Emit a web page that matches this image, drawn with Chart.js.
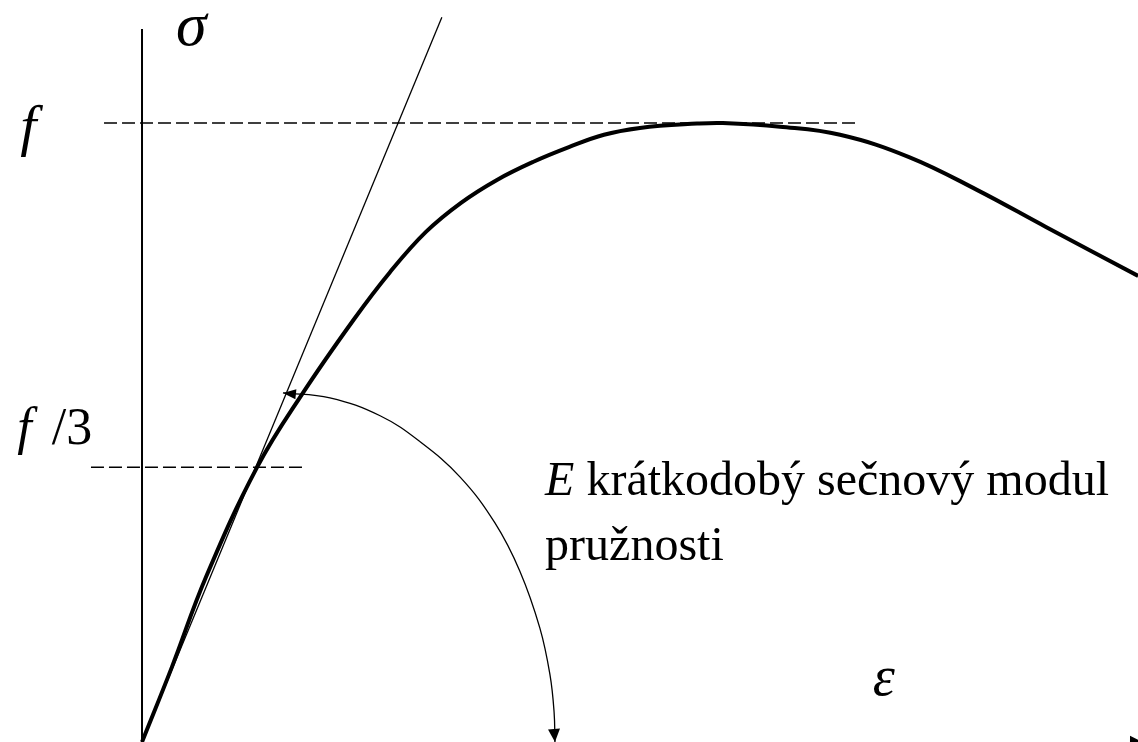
<!DOCTYPE html>
<html><head><meta charset="utf-8">
<script src="https://cdn.jsdelivr.net/npm/chart.js@4/dist/chart.umd.min.js"></script>
<style>html,body{margin:0;padding:0;background:#fff;overflow:hidden}canvas{display:block}</style>
</head><body>
<canvas id="c" width="1138" height="742"></canvas>
<script>
// Schematic stress-strain diagram: strain ε (arbitrary units), stress σ as fraction of f
const curveStrain = [0, 0.103, 0.221, 0.397, 0.555, 0.731, 0.855, 0.979, 1.100, 1.224, 1.348, 1.472, 1.593, 1.717, 1.914, 2.003, 2.200, 2.407, 2.645, 2.879, 3.117, 3.435];
const curveStress = [0, 0.121, 0.267, 0.444, 0.564, 0.683, 0.759, 0.824, 0.871, 0.908, 0.937, 0.961, 0.981, 0.992, 0.999, 1.000, 0.994, 0.981, 0.945, 0.892, 0.832, 0.753];
const secantStrain = [0, 1.034];
const secantStress = [0, 1.171];
const fLevel = 1.0;
const fLineStrain = [-0.131, 2.459];
const f3Level = 0.444;
const f3LineStrain = [-0.176, 0.562];
const arcStrain = [0.486, 0.648, 0.821, 0.959, 1.097, 1.217, 1.303, 1.372, 1.407, 1.421, 1.424];
const arcStress = [0.564, 0.556, 0.527, 0.485, 0.428, 0.354, 0.276, 0.184, 0.108, 0.048, 0.0];
const sigmaAxisStress = [-0.01, 1.152];
const epsAxisStrain = [0, 3.462];
const epsAxisStress = -0.003;
const textSigma = 'σ', textF = 'f', textF3 = '/3', textEps = 'ε';
const textE = 'E', textLine1 = ' krátkodobý sečnový modul', textLine2 = 'pružnosti';

const pts = (xs, ys) => xs.map((x, i) => ({x, y: ys[i]}));
const flat = (xs, y) => xs.map(x => ({x, y}));

const SERIF = "'Liberation Serif','Times New Roman',serif";

const overlay = {
  id: 'overlay',
  afterDatasetsDraw(chart) {
    const {ctx, scales: {x, y}} = chart;
    const P = (a, b) => [x.getPixelForValue(a), y.getPixelForValue(b)];
    function arrow(tip, from, L, W) {
      const ang = Math.atan2(tip[1] - from[1], tip[0] - from[0]);
      ctx.save();
      ctx.translate(tip[0], tip[1]);
      ctx.rotate(ang);
      ctx.beginPath();
      ctx.moveTo(0, 0); ctx.lineTo(-L, -W); ctx.lineTo(-L, W); ctx.closePath();
      ctx.fillStyle = '#000'; ctx.fill();
      ctx.restore();
    }
    // arc arrowheads
    arrow(P(arcStrain[0], arcStress[0]), P(arcStrain[1], arcStress[1]), 13, 5);
    const n = arcStrain.length;
    arrow(P(arcStrain[n-1], arcStress[n-1]), P(arcStrain[n-3], arcStress[n-3]), 13, 6);
    // strain axis arrowhead
    arrow(P(epsAxisStrain[1], epsAxisStress), P(epsAxisStrain[0], epsAxisStress), 16, 8);

    ctx.save();
    ctx.fillStyle = '#000';
    ctx.textBaseline = 'alphabetic';
    ctx.textAlign = 'left';
    // sigma
    ctx.font = 'italic 62px ' + SERIF;
    let p = P(0.117, 1.126); ctx.fillText(textSigma, p[0], p[1]);
    // epsilon
    ctx.font = 'italic 56px ' + SERIF;
    p = P(2.52, 0.076); ctx.fillText(textEps, p[0], p[1]);
    // f
    ctx.font = 'italic 58px ' + SERIF;
    p = P(-0.42, 0.9645); ctx.fillText(textF, p[0], p[1]);
    // f /3
    ctx.font = 'italic 52px ' + SERIF;
    p = P(-0.43, 0.482); ctx.fillText(textF, p[0], p[1]);
    const wf = ctx.measureText(textF).width;
    ctx.font = '52px ' + SERIF;
    ctx.fillText(textF3, p[0] + wf + 20, p[1]);
    // E label
    ctx.font = 'italic 48px ' + SERIF;
    p = P(1.390, 0.399); ctx.fillText(textE, p[0], p[1]);
    const wE = ctx.measureText(textE).width;
    ctx.font = '48px ' + SERIF;
    ctx.fillText(textLine1, p[0] + wE, p[1]);
    const p2 = P(1.390, 0.294); ctx.fillText(textLine2, p2[0], p2[1]);
    ctx.restore();
  }
};

new Chart(document.getElementById('c'), {
  type: 'scatter',
  data: {
    datasets: [
      {data: pts(curveStrain, curveStress), borderColor: '#000', borderWidth: 4, tension: 0.4},
      {data: pts(secantStrain, secantStress), borderColor: '#000', borderWidth: 1.3},
      {data: flat(fLineStrain, fLevel), borderColor: '#000', borderWidth: 1.5, borderDash: [13, 5]},
      {data: flat(f3LineStrain, f3Level), borderColor: '#000', borderWidth: 1.5, borderDash: [13, 5]},
      {data: pts(arcStrain, arcStress), borderColor: '#000', borderWidth: 1.3, tension: 0.4},
      {data: sigmaAxisStress.map(v => ({x: 0, y: v})), borderColor: '#000', borderWidth: 2},
      {data: flat(epsAxisStrain, epsAxisStress), borderColor: '#000', borderWidth: 1.5}
    ].map(d => Object.assign({showLine: true, pointRadius: 0, pointHoverRadius: 0, fill: false, clip: false}, d))
  },
  options: {
    responsive: false,
    animation: false,
    events: [],
    layout: {padding: 0},
    plugins: {legend: {display: false}, tooltip: {enabled: false}, title: {display: false}},
    scales: {
      x: {type: 'linear', min: -0.4897, max: 3.4345, display: false},
      y: {type: 'linear', min: 0, max: 1.1987, display: false}
    }
  },
  plugins: [overlay]
});
</script>
</body></html>
